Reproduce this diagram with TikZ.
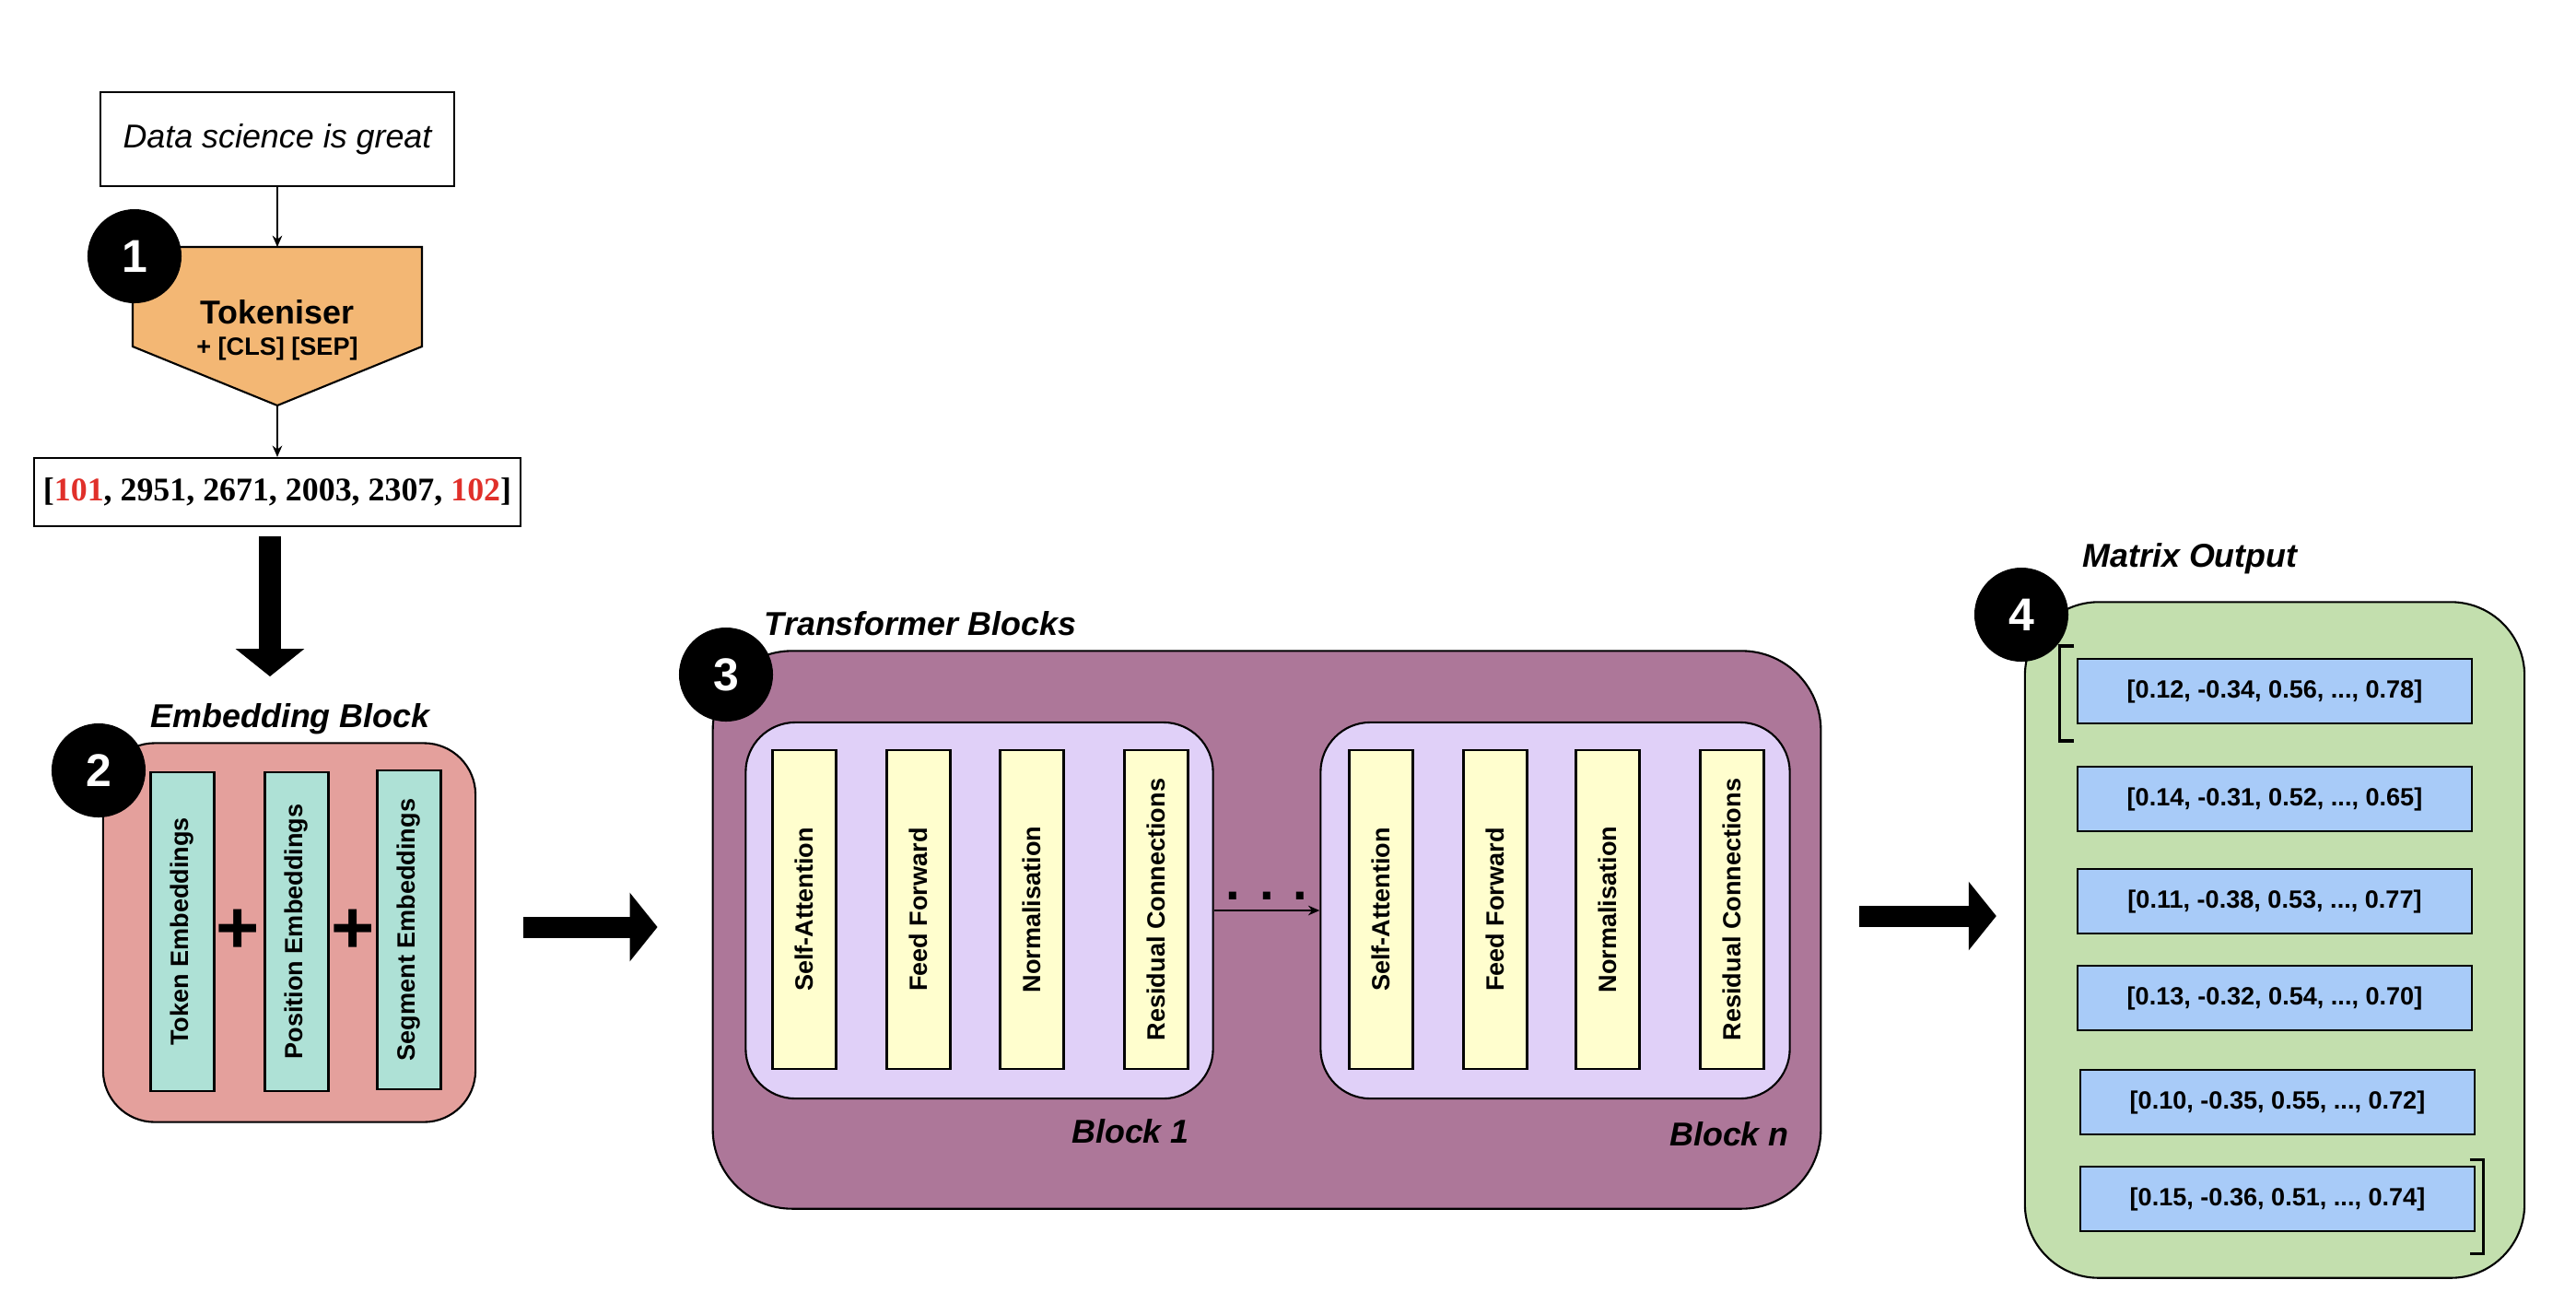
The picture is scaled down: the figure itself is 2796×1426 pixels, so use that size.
\documentclass[tikz,border=0pt]{standalone}
\usepackage{fontspec}
\setmainfont{Liberation Serif}
\setsansfont{Liberation Sans}
\usetikzlibrary{arrows.meta,calc}

\definecolor{tokorange}{RGB}{243,183,116}
\definecolor{embpink}{RGB}{228,160,156}
\definecolor{embcyan}{RGB}{174,225,214}
\definecolor{tfpurple}{RGB}{173,119,153}
\definecolor{tflilac}{RGB}{224,208,248}
\definecolor{tfyellow}{RGB}{255,254,206}
\definecolor{outgreen}{RGB}{195,223,174}
\definecolor{outblue}{RGB}{168,203,248}
\definecolor{idred}{RGB}{224,48,42}

\newcommand{\bigtxt}{\fontsize{10.2pt}{12pt}\selectfont}
\newcommand{\smalltxt}{\fontsize{7.7pt}{9pt}\selectfont}

\begin{document}
\begin{tikzpicture}[x=0.01cm,y=-0.01cm,line width=0.6pt,
                    >={Stealth[length=3.5pt,width=3pt]},
                    bigarrow/.style={line width=0.23cm,-{Triangle[width=0.73cm,length=0.3cm]}}]
  \tikzstyle{plain}=[draw,rectangle,inner sep=0pt]
  \tikzstyle{group}=[draw,rectangle,inner sep=0pt]
  \tikzstyle{badge}=[circle,fill=black,text=white,minimum size=1.02cm,inner sep=0pt,
                     font=\fontsize{14.2pt}{16pt}\selectfont\sffamily\bfseries]
  \tikzstyle{title}=[anchor=base,inner sep=0pt,font=\bigtxt\sffamily\bfseries\itshape]
  \tikzstyle{layer}=[plain,rotate=90,minimum width=3.46cm,minimum height=0.69cm,
                     font=\smalltxt\sffamily\bfseries]
  \tikzstyle{row}=[plain,fill=outblue,minimum width=4.27cm,minimum height=0.70cm,
                   font=\smalltxt\sffamily\bfseries]
  \tikzstyle{plus}=[inner sep=0pt,font=\fontsize{23pt}{24pt}\selectfont\sffamily\bfseries]

  \useasboundingbox (0,0) rectangle (2796,1426);

  % 1 - tokeniser
  \node[plain] (sent) at (301,151) [minimum width=3.83cm,minimum height=1.02cm,
        font=\bigtxt\sffamily\itshape] {Data science is great};
  \filldraw[fill=tokorange] (144,268) -- (458,268) -- (458,376) -- (301,440) -- (144,376) -- cycle;
  \coordinate (tokin)  at (301,268);
  \coordinate (tokout) at (301,440);
  \node[anchor=base,inner sep=0pt,font=\bigtxt\sffamily\bfseries]   (tokname) at (301,351) {Tokeniser};
  \node[anchor=base,inner sep=0pt,font=\smalltxt\sffamily\bfseries] (tokcls)  at (301,385) {+ [CLS] [SEP]};
  \node[plain] (ids) at (301,534) [minimum width=5.27cm,minimum height=0.74cm,
        font=\bigtxt\rmfamily\bfseries]
        {[\textcolor{idred}{101}, 2951, 2671, 2003, 2307, \textcolor{idred}{102}]};
  \node[badge] (one) at (146,278) {1};

  \path[->] (sent)   edge (tokin)
            (tokout) edge (ids);

  % 2 - embeddings
  \node[group,fill=embpink,rounded corners=0.56cm,minimum width=4.04cm,minimum height=4.11cm]
        (emb) at (314,1012) {};
  \node[title] (embtitle) at (315,789) {Embedding Block};
  \node[layer,fill=embcyan] (tokemb) at (198,1011) {Token Embeddings};
  \node[layer,fill=embcyan] (posemb) at (322,1011) {Position Embeddings};
  \node[layer,fill=embcyan] (segemb) at (444,1009) {Segment Embeddings};
  \node[plus] (plusa) at (258,1011) {+};
  \node[plus] (plusb) at (383,1011) {+};
  \node[badge] (two) at (107,836) {2};

  \draw[bigarrow] ($(ids.south)+(-8,10)$) -- ($(ids.south)+(-8,162)$);

  % 3 - transformer
  \node[group,fill=tfpurple,rounded corners=0.86cm,minimum width=12.02cm,minimum height=6.05cm]
        (tf) at (1375,1009) {};
  \node[title] (tftitle) at (999,689) {Transformer Blocks};
  \node[group,fill=tflilac,rounded corners=0.54cm,minimum width=5.07cm,minimum height=4.08cm]
        (blockone) at (1063,988) {};
  \node[group,fill=tflilac,rounded corners=0.54cm,minimum width=5.09cm,minimum height=4.08cm]
        (blockn) at (1688,988) {};
  \node[layer,fill=tfyellow] (attone)  at (873,987)  {Self-Attention};
  \node[layer,fill=tfyellow] (ffone)   at (997,987)  {Feed Forward};
  \node[layer,fill=tfyellow] (normone) at (1120,987) {Normalisation};
  \node[layer,fill=tfyellow] (resone)  at (1255,987) {Residual Connections};
  \node[layer,fill=tfyellow] (attn)    at (1499,987) {Self-Attention};
  \node[layer,fill=tfyellow] (ffn)     at (1623,987) {Feed Forward};
  \node[layer,fill=tfyellow] (normn)   at (1745,987) {Normalisation};
  \node[layer,fill=tfyellow] (resn)    at (1880,987) {Residual Connections};
  \node[title] (labone) at (1227,1240) {Block 1};
  \node[title] (labn)   at (1877,1243) {Block n};
  \node[badge] (three) at (788,732) {3};

  \draw[->] (blockone) -- node[above=0.1cm,inner sep=0pt,
        font=\fontsize{16pt}{16pt}\selectfont\sffamily\bfseries] (dots) {. . .} (blockn);

  \draw[bigarrow] ($(emb.east)+(51,-6)$) -- ($(tf.west)+(-59,-3)$);

  % 4 - output
  \node[group,fill=outgreen,rounded corners=0.8cm,minimum width=5.42cm,minimum height=7.33cm]
        (mat) at (2469,1020) {};
  \node[title] (mattitle) at (2377,615) {Matrix Output};
  \node[row] (rowa) at (2469,750)  {[0.12, -0.34, 0.56, ..., 0.78]};
  \node[row] (rowb) at (2469,867)  {[0.14, -0.31, 0.52, ..., 0.65]};
  \node[row] (rowc) at (2469,978)  {[0.11, -0.38, 0.53, ..., 0.77]};
  \node[row] (rowd) at (2469,1083) {[0.13, -0.32, 0.54, ..., 0.70]};
  \node[row] (rowe) at (2472,1196) {[0.10, -0.35, 0.55, ..., 0.72]};
  \node[row] (rowf) at (2472,1301) {[0.15, -0.36, 0.51, ..., 0.74]};
  \draw[line width=0.9pt] ($(rowa.north west)+(-3,-13)$) -- ++(-16,0) -- ++(0,103) -- ++(16,0);
  \draw[line width=0.9pt] ($(rowf.south east)+(-6,-79)$) -- ++(15,0) -- ++(0,102) -- ++(-15,0);
  \node[badge] (four) at (2194,667) {4};

  \draw[bigarrow] ($(tf.east)+(41,-15)$) -- ($(mat.west)+(-30,-26)$);
\end{tikzpicture}
\end{document}
